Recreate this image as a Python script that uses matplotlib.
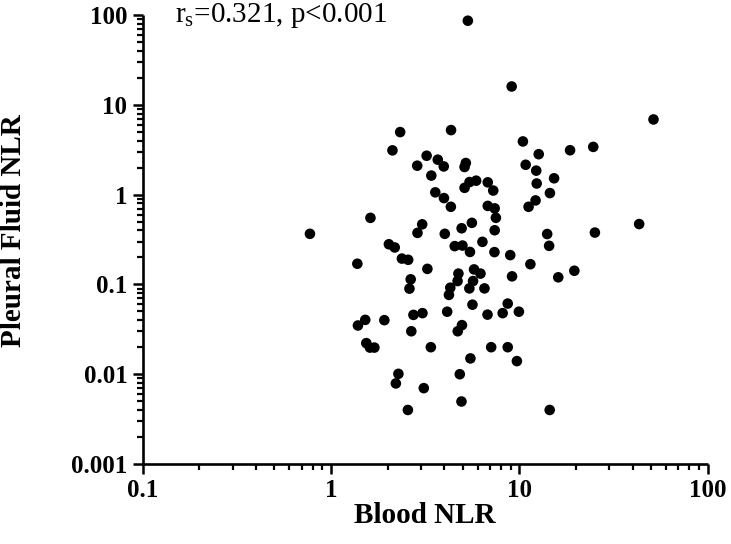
import matplotlib
matplotlib.use("Agg")
import matplotlib.pyplot as plt
from matplotlib.ticker import FuncFormatter, LogLocator, NullFormatter

# Blood NLR vs pleural fluid NLR
blood_nlr = [
    5.33, 9.11, 51.6, 2.33, 4.34, 10.45, 2.12, 3.22, 3.69, 12.68,
    18.6, 24.7, 2.87, 3.97, 5.20, 5.12, 10.81, 12.3, 3.41, 5.90,
    5.44, 6.80, 15.3, 12.37, 5.12, 7.27, 14.54, 3.58, 3.98, 12.2,
    11.2, 4.33, 6.80, 7.40, 7.51, 1.62, 0.773, 3.05, 2.88, 4.02,
    5.60, 4.94, 7.40, 14.06, 25.2, 43.3, 6.37, 2.03, 2.18, 4.54,
    4.99, 14.4, 5.47, 7.38, 8.95, 11.45, 2.38, 2.57, 1.38, 3.25,
    4.75, 5.75, 6.22, 9.15, 19.6, 16.1, 2.65, 4.70, 5.68, 2.61,
    4.30, 4.23, 5.43, 6.53, 5.64, 2.74, 3.06, 4.14, 6.78, 8.16,
    8.68, 9.95, 1.92, 1.52, 1.39, 2.67, 4.71, 4.96, 1.54, 1.61,
    1.70, 3.39, 7.09, 8.68, 5.50, 9.71, 2.28, 2.21, 3.11, 4.83,
    4.93, 2.56, 14.5,
]
pleural_nlr = [
    86.4, 16.0, 6.87, 4.97, 5.23, 3.91, 3.11, 2.71, 2.45, 2.82,
    3.12, 3.40, 2.10, 2.06, 2.25, 2.03, 2.15, 1.85, 1.63, 1.43,
    1.38, 1.37, 1.52, 1.33, 1.19, 1.11, 1.04, 1.06, 0.915, 0.862,
    0.732, 0.732, 0.749, 0.703, 0.552, 0.551, 0.366, 0.467, 0.375, 0.366,
    0.485, 0.422, 0.401, 0.364, 0.378, 0.470, 0.298, 0.280, 0.258, 0.267,
    0.271, 0.269, 0.230, 0.229, 0.212, 0.168, 0.194, 0.188, 0.170, 0.149,
    0.132, 0.147, 0.132, 0.123, 0.142, 0.120, 0.114, 0.109, 0.109, 0.0898,
    0.0919, 0.0765, 0.0903, 0.0903, 0.0595, 0.0458, 0.0479, 0.0497, 0.0461, 0.0479,
    0.0612, 0.0497, 0.0400, 0.0403, 0.0349, 0.0301, 0.0301, 0.0352, 0.0222, 0.0198,
    0.0198, 0.0200, 0.0200, 0.0200, 0.0150, 0.0140, 0.0101, 0.0079, 0.0070, 0.0100,
    0.00497, 0.0040, 0.0040,
]
x_limits = (0.1, 100)
y_limits = (0.001, 100)
annotation = r"r$_\mathregular{s}$=0.321, p<0.001"

plt.rcParams["font.family"] = ["Liberation Serif", "DejaVu Serif"]
plt.rcParams["mathtext.fontset"] = "custom"
plt.rcParams["mathtext.rm"] = "Liberation Serif"

fig = plt.figure(figsize=(7.31, 5.44), dpi=100)
ax = fig.add_axes([0.1952, 0.1470, 0.7728, 0.8254])

ax.scatter(blood_nlr, pleural_nlr, s=58, color="black", edgecolors="none", zorder=3)

ax.set_xscale("log")
ax.set_yscale("log")
ax.set_xlim(*x_limits)
ax.set_ylim(*y_limits)

fmt = FuncFormatter(lambda v, _: f"{v:g}")
for axis in (ax.xaxis, ax.yaxis):
    axis.set_major_locator(LogLocator(base=10))
    axis.set_minor_locator(LogLocator(base=10, subs=range(2, 10)))
    axis.set_major_formatter(fmt)
    axis.set_minor_formatter(NullFormatter())

for side in ("top", "right"):
    ax.spines[side].set_visible(False)
for side in ("left", "bottom"):
    ax.spines[side].set_linewidth(1.9)
    ax.spines[side].set_capstyle("butt")

ax.tick_params(which="major", length=7, width=1.8, direction="out", pad=4)
ax.tick_params(which="minor", length=4.3, width=1.6, direction="out")
for label in ax.get_xticklabels() + ax.get_yticklabels():
    label.set_fontweight("bold")
    label.set_fontsize(18)

ax.set_xlabel("Blood NLR", fontsize=21, fontweight="bold", labelpad=0)
ax.set_ylabel("Pleural Fluid NLR", fontsize=21, fontweight="bold")
ax.yaxis.set_label_coords(-0.205, 0.52)

fig.text(175 / 731, 1 - 22 / 544, annotation, fontsize=21, ha="left", va="baseline")

fig.savefig("out.png", dpi=100)
